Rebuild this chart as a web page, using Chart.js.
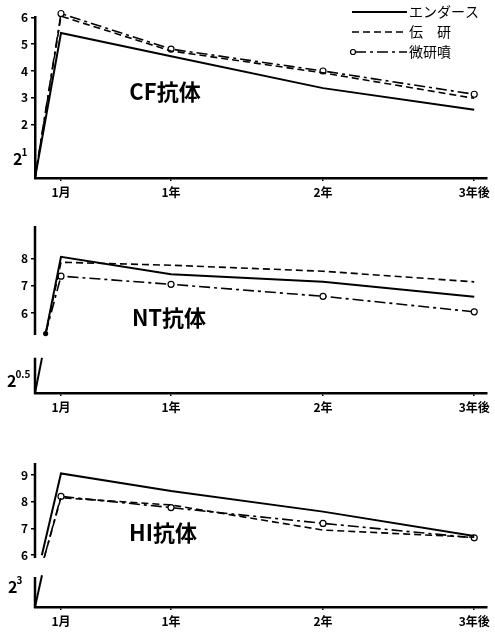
<!DOCTYPE html>
<html>
<head>
<meta charset="utf-8">
<script src="https://cdn.jsdelivr.net/npm/chart.js@4.4.1/dist/chart.umd.min.js"></script>
<style>
  body { margin: 0; background: #fff; width: 495px; height: 632px; position: relative; overflow: hidden; }
  canvas { position: absolute; left: 0; }
</style>
</head>
<body>
<canvas id="cf" width="495" height="210" style="top:0"></canvas>
<canvas id="nt" width="495" height="205" style="top:210px"></canvas>
<canvas id="hi" width="495" height="217" style="top:415px"></canvas>
<script>
// series names (legend)
const seriesNames = ['エンダース', '伝　研', '微研噴'];

// x axis: positions along the drawn time axis, and their labels
const tickPos = [0.171, 0.895, 1.895, 2.89];
const tickLabels = ['1月', '1年', '2年', '3年後'];

// CF抗体 (log2 titre)
const cfX = [0, 0.171, 0.895, 1.895, 2.89];
const cfEnders = [0, 5.42, 4.55, 3.36, 2.55];
const cfDenken = [0, 6.05, 4.75, 3.93, 2.98];
const cfBiken = [0, 6.15, 4.82, 4.0, 3.13];
const cfYTicks = [2, 3, 4, 5, 6];

// NT抗体
const ntX = [0.07, 0.171, 0.895, 1.895, 2.89];
const ntEnders = [5.25, 8.07, 7.43, 7.15, 6.6];
const ntDenken = [5.25, 7.87, 7.76, 7.54, 7.15];
const ntBiken = [5.25, 7.36, 7.06, 6.62, 6.05];
const ntBreakX = [0, 0.046];
const ntBreakY = [3.07, 4.36];
const ntYTicks = [6, 7, 8];

// HI抗体
const hiXEnders = [0.045, 0.171, 0.895, 1.895, 2.89];
const hiX = [0.06, 0.171, 0.895, 1.895, 2.89];
const hiEnders = [6.0, 9.06, 8.4, 7.63, 6.72];
const hiDenken = [5.9, 8.15, 7.88, 6.94, 6.67];
const hiBiken = [5.9, 8.2, 7.78, 7.19, 6.65];
const hiBreakX = [0, 0.046];
const hiBreakY = [4.06, 5.25];
const hiYTicks = [6, 7, 8, 9];

const FONT = '"Noto Sans CJK JP", "DejaVu Sans", sans-serif';

function pts(xs, ys) {
    return xs.map(function(x, i) { return { x: x, y: ys[i] }; });
}

function lineSets(xE, e, xD, d, xB, b, startDot) {
    return [
        { label: seriesNames[0], data: pts(xE, e), borderColor: '#000', borderWidth: 2,
          pointRadius: 0, clip: false },
        { label: seriesNames[1], data: pts(xD, d), borderColor: '#000', borderWidth: 1.6,
          borderDash: [7, 4], pointRadius: 0, clip: false },
        { label: seriesNames[2], data: pts(xB, b), borderColor: '#000', borderWidth: 1.6,
          borderDash: [11, 4, 3, 4],
          pointRadius: [startDot ? 2 : 0, 3, 3, 3, 3],
          pointBackgroundColor: [startDot ? '#000' : '#fff', '#fff', '#fff', '#fff', '#fff'],
          pointBorderColor: '#000', pointBorderWidth: 1.2, clip: false }
    ];
}

// titles, 2^n base labels, broken y axis, legend
const panelDecor = {
    id: 'panelDecor',
    afterDatasetsDraw(chart, args, opts) {
        const ctx = chart.ctx, ys = chart.scales.y, a = chart.chartArea;
        ctx.save();
        ctx.fillStyle = '#000';
        ctx.textBaseline = 'middle';
        ctx.textAlign = 'center';
        ctx.font = 'bold 22px ' + FONT;
        ctx.fillText(opts.title, opts.titleX, opts.titleY);

        const by = ys.getPixelForValue(opts.baseValue);
        ctx.textAlign = 'left';
        ctx.font = 'bold 16px ' + FONT;
        ctx.fillText('2', opts.baseX, by);
        const w = ctx.measureText('2').width;
        ctx.font = 'bold 10px ' + FONT;
        ctx.fillText(opts.baseExp, opts.baseX + w - 1, by - 7);

        if (opts.upperFrom != null) {
            ctx.strokeStyle = '#000';
            ctx.lineWidth = 2.5;
            ctx.beginPath();
            ctx.moveTo(a.left, a.top);
            ctx.lineTo(a.left, ys.getPixelForValue(opts.upperFrom));
            ctx.moveTo(a.left, ys.getPixelForValue(opts.lowerTo));
            ctx.lineTo(a.left, a.bottom + 1);
            ctx.stroke();
        }

        if (opts.legend) {
            const sets = chart.data.datasets;
            ctx.font = '14px ' + FONT;
            for (let i = 0; i < 3; i++) {
                const ds = sets[i], y = 12 + i * 20;
                ctx.strokeStyle = '#000';
                ctx.lineWidth = ds.borderWidth;
                ctx.setLineDash(ds.borderDash || []);
                ctx.beginPath();
                ctx.moveTo(i === 2 ? 355 : 352, y);
                ctx.lineTo(407, y);
                ctx.stroke();
                ctx.setLineDash([]);
                if (i === 2) {
                    ctx.beginPath();
                    ctx.lineWidth = 1.2;
                    ctx.fillStyle = '#fff';
                    ctx.arc(353, y, 2.5, 0, Math.PI * 2);
                    ctx.fill();
                    ctx.stroke();
                    ctx.fillStyle = '#000';
                }
                ctx.fillText(ds.label, 409, y);
            }
        }
        ctx.restore();
    }
};

function makePanel(id, p) {
    return new Chart(document.getElementById(id), {
        type: 'line',
        data: { datasets: p.datasets },
        options: {
            responsive: false,
            animation: false,
            layout: { padding: { top: p.padTop, right: 8, left: 0, bottom: 0 } },
            plugins: {
                legend: { display: false },
                tooltip: { enabled: false },
                panelDecor: p.decor
            },
            scales: {
                x: {
                    type: 'linear', min: 0, max: 2.974,
                    afterBuildTicks: function(s) { s.ticks = tickPos.map(function(v) { return { value: v }; }); },
                    afterFit: function(s) { s.height = p.axisH; s.paddingLeft = 0; s.paddingRight = 0; },
                    ticks: {
                        callback: function(v, i) { return tickLabels[i]; },
                        font: { family: FONT, size: 12, weight: 'bold' },
                        color: '#000', padding: 4, maxRotation: 0, autoSkip: false
                    },
                    grid: { drawOnChartArea: false, tickLength: 3, color: '#000', lineWidth: 1.5 },
                    border: { color: '#000', width: 2.5 }
                },
                y: {
                    min: p.yMin, max: p.yMax,
                    afterBuildTicks: function(s) { s.ticks = p.yTicks.map(function(v) { return { value: v }; }); },
                    afterFit: function(s) { s.width = 35; s.paddingTop = 0; s.paddingBottom = 0; },
                    ticks: { font: { family: FONT, size: 12, weight: 'bold' }, color: '#000', padding: 3 },
                    grid: { drawOnChartArea: false, tickLength: 4, color: '#000', lineWidth: 1.5 },
                    border: { display: !p.broken, color: '#000', width: 2.5 }
                }
            }
        },
        plugins: [panelDecor]
    });
}

makePanel('cf', {
    datasets: lineSets(cfX, cfEnders, cfX, cfDenken, cfX, cfBiken, false),
    padTop: 17.5, axisH: 32, yMin: 0, yMax: 6, yTicks: cfYTicks, broken: false,
    decor: { title: 'CF抗体', titleX: 165, titleY: 92, baseValue: 0.7, baseExp: '1', baseX: 13, legend: true }
});

const ntSets = lineSets(ntX, ntEnders, ntX, ntDenken, ntX, ntBiken, true);
ntSets.push({ label: '', data: pts(ntBreakX, ntBreakY), borderColor: '#000', borderWidth: 2, pointRadius: 0, clip: false });
makePanel('nt', {
    datasets: ntSets,
    padTop: 16, axisH: 22, yMin: 3.07, yMax: 9.2, yTicks: ntYTicks, broken: true,
    decor: { title: 'NT抗体', titleX: 169, titleY: 108, baseValue: 3.5, baseExp: '0.5', baseX: 7,
             upperFrom: 5.2, lowerTo: 4.36 }
});

const hiSets = lineSets(hiXEnders, hiEnders, hiX, hiDenken, hiX, hiBiken, false);
hiSets.push({ label: '', data: pts(hiBreakX, hiBreakY), borderColor: '#000', borderWidth: 2, pointRadius: 0, clip: false });
makePanel('hi', {
    datasets: hiSets,
    padTop: 48, axisH: 25, yMin: 4.06, yMax: 9.45, yTicks: hiYTicks, broken: true,
    decor: { title: 'HI抗体', titleX: 163, titleY: 118, baseValue: 4.8, baseExp: '3', baseX: 8,
             upperFrom: 5.89, lowerTo: 5.18 }
});
</script>
</body>
</html>
